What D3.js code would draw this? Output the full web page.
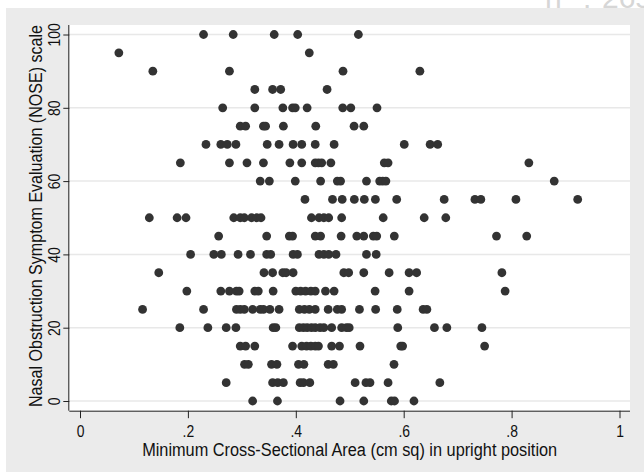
<!DOCTYPE html>
<html>
<head>
<meta charset="utf-8">
<script src="https://cdn.jsdelivr.net/npm/d3@7"></script>
<style>
  html, body { margin: 0; padding: 0; background: #ffffff; }
  svg { display: block; }
  text { font-family: "Liberation Sans", Arial, sans-serif; }
</style>
</head>
<body>
<svg id="chart" width="644" height="472"></svg>
<script>
// ---- Data ----
const xTickValues = [0, 0.2, 0.4, 0.6, 0.8, 1];
const xTickLabels = ["0", ".2", ".4", ".6", ".8", "1"];
const yTickValues = [0, 20, 40, 60, 80, 100];
const yTickLabels = ["0", "20", "40", "60", "80", "100"];

const xTitle = "Minimum Cross-Sectional Area (cm sq) in upright position";
const yTitle = "Nasal Obstruction Symptom Evaluation (NOSE) scale";
const noteText = ["n", ":", "265"];

// Minimum cross-sectional area values observed at each NOSE score
const nose100 = [0.229, 0.284, 0.360, 0.4035, 0.516];
const nose95  = [0.072, 0.425];
const nose90  = [0.135, 0.277, 0.4875, 0.630];
const nose85  = [0.324, 0.357, 0.372, 0.458];
const nose80  = [0.2645, 0.324, 0.376, 0.394, 0.399, 0.421, 0.487, 0.502, 0.5505];
const nose75  = [0.297, 0.307, 0.340, 0.344, 0.377, 0.437, 0.508, 0.526];
const nose70  = [0.2335, 0.261, 0.273, 0.289, 0.347, 0.369, 0.395, 0.411, 0.436, 0.471, 0.601, 0.649, 0.663];
const nose65  = [0.186, 0.277, 0.3095, 0.340, 0.389, 0.411, 0.436, 0.442, 0.448, 0.465, 0.564, 0.571, 0.832];
const nose60  = [0.334, 0.351, 0.399, 0.446, 0.477, 0.483, 0.531, 0.5555, 0.561, 0.567, 0.879];
const nose55  = [0.417, 0.468, 0.486, 0.5085, 0.527, 0.5475, 0.587, 0.675, 0.732, 0.743, 0.808, 0.9225];
const nose50  = [0.1285, 0.180, 0.1965, 0.285, 0.297, 0.3046, 0.318, 0.3275, 0.3355, 0.429, 0.443, 0.452, 0.461, 0.485, 0.562, 0.638, 0.678];
const nose45  = [0.257, 0.346, 0.388, 0.394, 0.436, 0.446, 0.484, 0.513, 0.526, 0.5437, 0.550, 0.5826, 0.772, 0.828];
const nose40  = [0.205, 0.248, 0.262, 0.293, 0.316, 0.346, 0.3535, 0.395, 0.403, 0.443, 0.452, 0.461, 0.4745, 0.531, 0.549];
const nose35  = [0.146, 0.341, 0.357, 0.376, 0.382, 0.395, 0.489, 0.498, 0.526, 0.573, 0.610, 0.624, 0.782];
const nose30  = [0.198, 0.261, 0.277, 0.290, 0.295, 0.324, 0.3305, 0.358, 0.400, 0.409, 0.418, 0.428, 0.436, 0.455, 0.471, 0.547, 0.610, 0.788];
const nose25  = [0.116, 0.229, 0.290, 0.297, 0.3046, 0.320, 0.334, 0.340, 0.352, 0.369, 0.4065, 0.416, 0.425, 0.436, 0.460, 0.477, 0.485, 0.518, 0.548, 0.588, 0.636, 0.643];
const nose20  = [0.185, 0.237, 0.271, 0.289, 0.358, 0.363, 0.4065, 0.414, 0.421, 0.429, 0.436, 0.445, 0.452, 0.4665, 0.485, 0.494, 0.499, 0.589, 0.657, 0.680, 0.745];
const nose15  = [0.297, 0.307, 0.324, 0.394, 0.411, 0.420, 0.428, 0.436, 0.442, 0.4665, 0.481, 0.519, 0.5945, 0.598, 0.750];
const nose10  = [0.305, 0.312, 0.355, 0.365, 0.405, 0.415, 0.460, 0.4696, 0.582];
const nose5   = [0.271, 0.357, 0.3665, 0.377, 0.408, 0.414, 0.426, 0.510, 0.530, 0.5375, 0.571, 0.667];
const nose0   = [0.320, 0.366, 0.482, 0.526, 0.577, 0.583, 0.619];

const scoreRows = [
  [100, nose100], [95, nose95], [90, nose90], [85, nose85], [80, nose80],
  [75, nose75], [70, nose70], [65, nose65], [60, nose60], [55, nose55],
  [50, nose50], [45, nose45], [40, nose40], [35, nose35], [30, nose30],
  [25, nose25], [20, nose20], [15, nose15], [10, nose10], [5, nose5], [0, nose0]
];
const points = [];
scoreRows.forEach(([score, areas]) => areas.forEach(a => points.push({ area: a, score: score })));

// ---- Layout ----
const W = 644, H = 472;
const plot = { left: 69.3, right: 630, top: 25, bottom: 410.7 };

const svg = d3.select("#chart");

// outer graph region
svg.append("rect").attr("x", 6).attr("y", 8).attr("width", W - 6).attr("height", H - 8)
  .attr("fill", "#ebebeb");

// faint note text at top right (cut off by the top edge, as in the reference)
const note = svg.append("text").attr("y", 7.5).attr("font-size", 30).attr("fill", "#d6d6d6");
note.append("tspan").attr("x", 545).text(noteText[0]);
note.append("tspan").attr("x", 583).text(noteText[1]);
note.append("tspan").attr("x", 602).text(noteText[2]);

// plot region
svg.append("rect").attr("x", plot.left).attr("y", plot.top)
  .attr("width", plot.right - plot.left).attr("height", plot.bottom - plot.top)
  .attr("fill", "#ffffff");

const x = d3.scaleLinear().domain([0, 1]).range([80, 619.5]);
const y = d3.scaleLinear().domain([0, 100]).range([401, 34.5]);

// gridlines
svg.append("g").selectAll("line").data(yTickValues).join("line")
  .attr("x1", plot.left).attr("x2", plot.right)
  .attr("y1", d => y(d)).attr("y2", d => y(d))
  .attr("stroke", "#e8e8e8").attr("stroke-width", 1.5);

// points
svg.append("g").selectAll("circle").data(points).join("circle")
  .attr("cx", d => x(d.area)).attr("cy", d => y(d.score))
  .attr("r", 4.4).attr("fill", "#333333");

const axisColor = "#222222";
const squeeze = 0.82;

// x axis
const xAxis = d3.axisBottom(x).tickValues(xTickValues)
  .tickFormat((d, i) => xTickLabels[i]).tickSize(7.5).tickSizeOuter(0);
const gx = svg.append("g").attr("transform", `translate(0,${plot.bottom})`).call(xAxis);
gx.select(".domain").attr("d", `M${plot.left},0.5H${plot.right}`)
  .attr("stroke", axisColor);
gx.selectAll(".tick line").attr("stroke", axisColor);
gx.selectAll(".tick text")
  .attr("y", 0).attr("dy", 0)
  .attr("transform", `translate(0,26.5) scale(${squeeze},1)`)
  .attr("font-size", 17).attr("fill", "#111111");

// y axis
const yAxis = d3.axisLeft(y).tickValues(yTickValues)
  .tickFormat((d, i) => yTickLabels[i]).tickSize(6).tickSizeOuter(0);
const gy = svg.append("g").attr("transform", `translate(${plot.left},0)`).call(yAxis);
gy.select(".domain").attr("d", `M-0.5,${plot.top}V${plot.bottom}`).attr("stroke", axisColor);
gy.selectAll(".tick line").attr("stroke", axisColor);
gy.selectAll(".tick text")
  .attr("x", 0).attr("dy", 0).attr("text-anchor", "middle")
  .attr("transform", `translate(-9.8,0) rotate(-90) scale(${squeeze},1)`)
  .attr("font-size", 17).attr("fill", "#111111");

// titles
svg.append("text")
  .attr("x", (plot.left + plot.right) / 2).attr("y", 456)
  .attr("text-anchor", "middle").attr("font-size", 18).attr("fill", "#111111")
  .attr("textLength", 415).attr("lengthAdjust", "spacingAndGlyphs")
  .text(xTitle);

svg.append("text")
  .attr("transform", `translate(41.5,216) rotate(-90)`)
  .attr("text-anchor", "middle").attr("font-size", 18.5).attr("fill", "#111111")
  .attr("textLength", 382).attr("lengthAdjust", "spacingAndGlyphs")
  .text(yTitle);
</script>
</body>
</html>
